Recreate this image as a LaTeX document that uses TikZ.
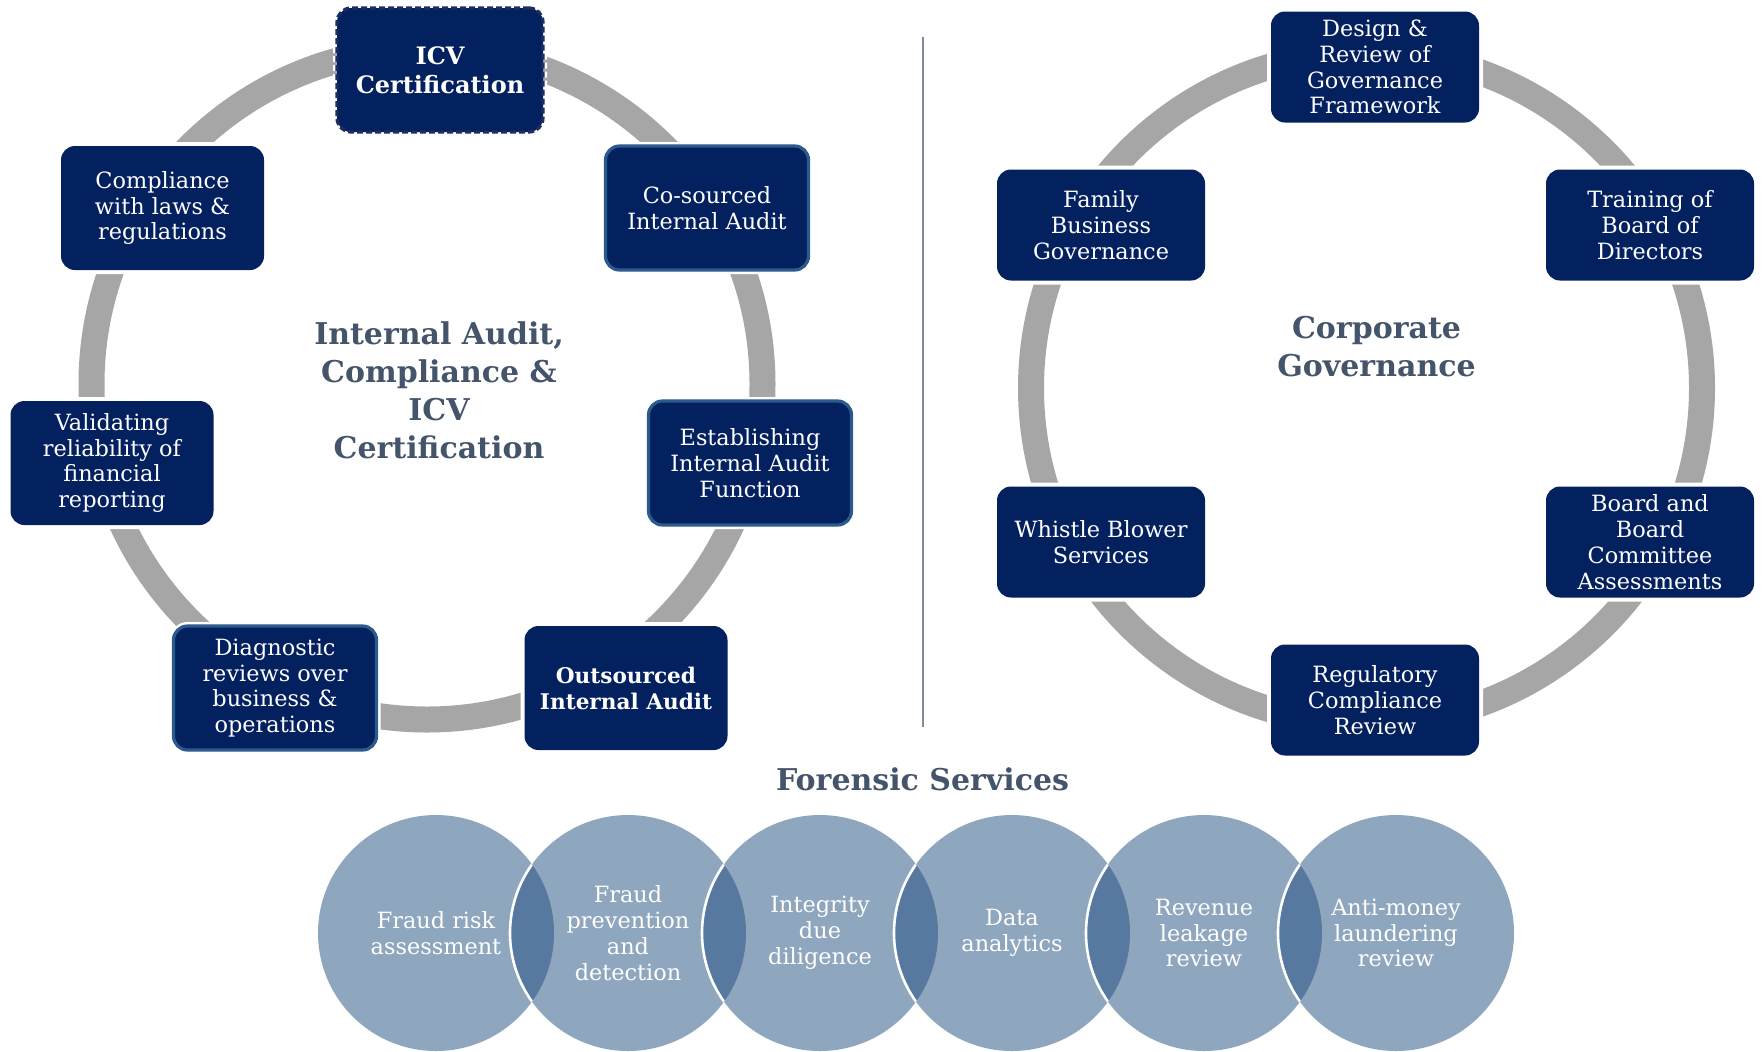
\documentclass[tikz,border=0pt]{standalone}
\usepackage{fontspec}
\setmainfont{DejaVu Serif}
\definecolor{navy}{HTML}{03205F}
\definecolor{steel}{HTML}{2B5A8C}
\definecolor{dashc}{HTML}{1A2F5E}
\definecolor{ringgray}{HTML}{A6A6A6}
\definecolor{titlec}{HTML}{44546A}
\definecolor{divc}{HTML}{7F8B9C}
\definecolor{circc}{HTML}{8FA6BF}
\definecolor{lensc}{HTML}{57799F}
\begin{document}
\begin{tikzpicture}[x=0.5pt,y=-0.5pt,
  box/.style={rounded corners=7pt, fill=navy, text=white, minimum width=101.5pt,
    minimum height=62pt, align=center, inner sep=1pt,
    font=\fontsize{11.2}{12.9}\selectfont,
    preaction={draw=white, line width=4pt}},
  rbox/.style={box, minimum width=104pt, minimum height=55.5pt},
  steelbox/.style={box, draw=steel, line width=1.6pt},
  boldbox/.style={box, font=\fontsize{10.8}{13}\selectfont\bfseries},
  dashbox/.style={box, font=\fontsize{12}{14.5}\selectfont\bfseries, draw=dashc, dash pattern=on 3pt off 1.5pt, line width=1.6pt},
  ring/.style={draw=ringgray, line width=13pt},
  maintitle/.style={text=titlec, align=center, font=\fontsize{15}{19}\selectfont\bfseries},
  circtext/.style={text=white, align=center, font=\fontsize{11.2}{12.9}\selectfont},
  divider/.style={draw=divc, line width=1pt}
]
\useasboundingbox (0,0) rectangle (1762,1051);

% ---------- rings ----------
\coordinate (lc) at (427,384);
\coordinate (rc) at (1366.5,388);
\draw[ring] (lc) circle (335.5);
\draw[ring] (rc) circle (335.5);

% ---------- divider ----------
\coordinate (dtop) at (922.5,37);
\coordinate (dbot) at (922.5,727);
\draw[divider] (dtop) -- (dbot);

% ---------- left cycle ----------
\node[dashbox, minimum width=103pt] (icv) at (440,70) {ICV\\Certification};
\node[box] (comp) at (162.5,208) {Compliance\\with laws \&\\regulations};
\node[steelbox] (cos) at (707,208) {Co-sourced\\Internal Audit};
\node[box] (val) at (112,463) {Validating\\reliability of\\financial\\reporting};
\node[steelbox] (est) at (750,463) {Establishing\\Internal Audit\\Function};
\node[steelbox] (diag) at (275,688) {Diagnostic\\reviews over\\business \&\\operations};
\node[boldbox] (out) at (626,688) {Outsourced\\Internal Audit};
\node[maintitle] (ltitle) at (439,390) {Internal Audit,\\Compliance \&\\ICV\\Certification};

% ---------- right cycle ----------
\node[rbox] (des) at (1375,67) {Design \&\\Review of\\Governance\\Framework};
\node[rbox] (fam) at (1101,225) {Family\\Business\\Governance};
\node[rbox] (tra) at (1650,225) {Training of\\Board of\\Directors};
\node[rbox] (whi) at (1101,542) {Whistle Blower\\Services};
\node[rbox] (boa) at (1650,542) {Board and\\Board\\Committee\\Assessments};
\node[rbox] (reg) at (1375,700) {Regulatory\\Compliance\\Review};
\node[maintitle] (rtitle) at (1376.5,347) {Corporate\\Governance};

% ---------- forensic services ----------
\node[maintitle] (ftitle) at (922.5,779) {Forensic Services};

\foreach \n/\x in {1/436,2/628,3/820,4/1012,5/1204,6/1396}{
  \coordinate (c\n) at (\x,933);
  \fill[circc] (c\n) circle (118);
}
\foreach \a/\b in {1/2,2/3,3/4,4/5,5/6}{
  \begin{scope}
    \clip (c\a) circle (118);
    \fill[lensc] (c\b) circle (118);
    \draw[white, line width=1.3pt] (c\b) circle (118);
  \end{scope}
}
\node[circtext] (f1) at (c1) {Fraud risk\\assessment};
\node[circtext] (f2) at (c2) {Fraud\\prevention\\and\\detection};
\node[circtext] (f3) at (c3) {Integrity\\due\\diligence};
\node[circtext] (f4) at (c4) {Data\\analytics};
\node[circtext] (f5) at (c5) {Revenue\\leakage\\review};
\node[circtext] (f6) at (c6) {Anti-money\\laundering\\review};
\end{tikzpicture}
\end{document}
